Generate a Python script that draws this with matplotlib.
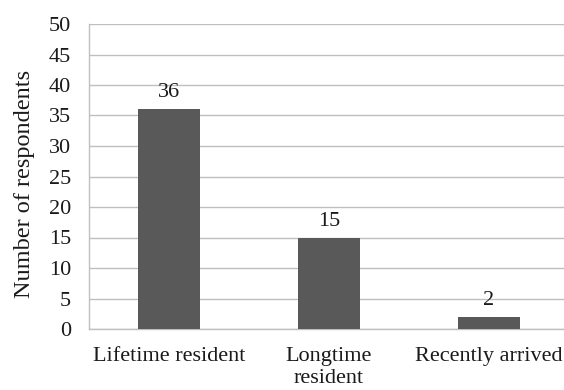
import matplotlib
matplotlib.use("Agg")
import matplotlib.pyplot as plt

categories = ["Lifetime resident", "Longtime\nresident", "Recently arrived"]
counts = [36, 15, 2]
y_ticks = list(range(0, 55, 5))

plt.rcParams["font.family"] = ["Liberation Serif", "DejaVu Serif"]

fig = plt.figure(figsize=(5.64, 3.90), dpi=100)
ax = fig.add_axes([89 / 564, 61 / 390, 480 / 564, 305 / 390])

x = range(len(categories))
bars = ax.bar(x, counts, width=0.39, color="#595959", zorder=3)
for b, v in zip(bars, counts):
    ax.annotate(str(v), (b.get_x() + b.get_width() / 2, v), xytext=(0, 5),
                textcoords="offset points", ha="center", va="bottom",
                fontsize=16, color="#1a1a1a")

ax.set_xlim(-0.5, len(categories) - 0.5)
ax.set_ylim(0, 50)
ax.set_yticks(y_ticks)
ax.set_xticks(list(x))
ax.set_xticklabels(categories, linespacing=1.2)
ax.tick_params(axis="both", length=0, labelsize=16, colors="#1a1a1a")
ax.tick_params(axis="y", pad=13)
ax.tick_params(axis="x", pad=13)
ax.yaxis.grid(True, color="#bfbfbf", linewidth=1, zorder=0)

for side in ("top", "right"):
    ax.spines[side].set_visible(False)
for side in ("left", "bottom"):
    ax.spines[side].set_color("#bfbfbf")
    ax.spines[side].set_linewidth(1)

ax.set_ylabel("Number of respondents", fontsize=17.5, color="#1a1a1a")
ax.yaxis.set_label_coords(-0.1125, 0.475)

fig.savefig("out.png", dpi=100)
